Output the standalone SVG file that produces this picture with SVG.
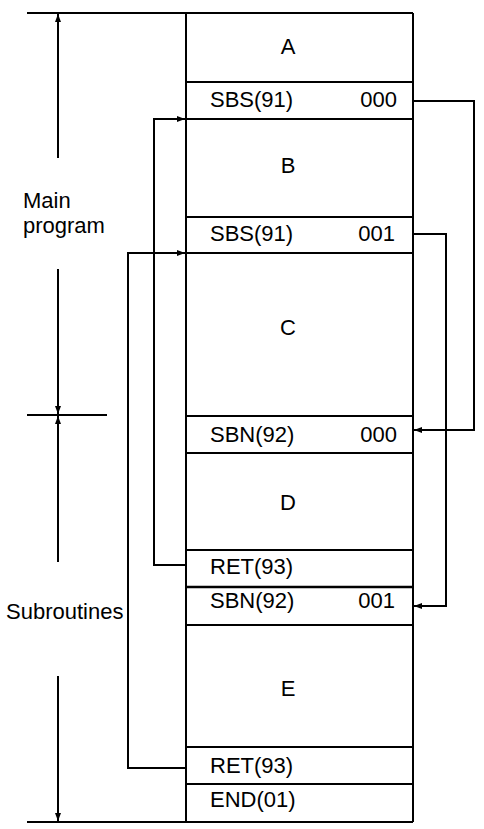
<svg xmlns="http://www.w3.org/2000/svg" width="484" height="829" viewBox="0 0 484 829">
<defs>
<marker id="ah" viewBox="0 0 8 6" refX="8" refY="3" markerWidth="8" markerHeight="6" markerUnits="userSpaceOnUse" orient="auto">
<path d="M0,0 L8,3 L0,6 Z" fill="#000"/>
</marker>
</defs>
<style>
.ln{stroke:#000;stroke-width:2;fill:none}
.t{font-family:"Liberation Sans",Arial,sans-serif;font-size:22px;fill:#000}
.c{text-anchor:middle}
.e{text-anchor:end}
</style>
<rect width="484" height="829" fill="#fff"/>
<g id="dimensions">
<line class="ln" x1="27" y1="13" x2="413" y2="13"/>
<line class="ln" x1="27" y1="822" x2="413" y2="822"/>
<line class="ln" x1="27" y1="415" x2="107" y2="415"/>
<line class="ln" x1="58" y1="158" x2="58" y2="14" marker-end="url(#ah)"/>
<line class="ln" x1="58" y1="269" x2="58" y2="414" marker-end="url(#ah)"/>
<line class="ln" x1="58" y1="562" x2="58" y2="416" marker-end="url(#ah)"/>
<line class="ln" x1="58" y1="676" x2="58" y2="821" marker-end="url(#ah)"/>
<text class="t" x="23" y="208">Main</text>
<text class="t" x="23" y="233">program</text>
<text class="t" x="6" y="619">Subroutines</text>
</g>
<g id="program">
<line class="ln" x1="186" y1="13" x2="186" y2="822"/>
<line class="ln" x1="413" y1="13" x2="413" y2="822"/>
</g>
<g id="nodeA"><text class="t c" x="288" y="54">A</text><line class="ln" x1="186" y1="82" x2="413" y2="82"/></g>
<g id="nodeSBS000"><text class="t" x="210" y="107">SBS(91)</text><text class="t e" x="397" y="107">000</text><line class="ln" x1="186" y1="119" x2="413" y2="119"/></g>
<g id="nodeB"><text class="t c" x="288" y="173">B</text><line class="ln" x1="186" y1="217" x2="413" y2="217"/></g>
<g id="nodeSBS001"><text class="t" x="210" y="241">SBS(91)</text><text class="t e" x="395" y="241">001</text><line class="ln" x1="186" y1="253" x2="413" y2="253"/></g>
<g id="nodeC"><text class="t c" x="288" y="335">C</text><line class="ln" x1="186" y1="416" x2="413" y2="416"/></g>
<g id="nodeSBN000"><text class="t" x="210" y="442">SBN(92)</text><text class="t e" x="397" y="442">000</text><line class="ln" x1="186" y1="453" x2="413" y2="453"/></g>
<g id="nodeD"><text class="t c" x="288" y="510">D</text><line class="ln" x1="186" y1="550" x2="413" y2="550"/></g>
<g id="nodeRET1"><text class="t" x="210" y="574">RET(93)</text><line class="ln" x1="186" y1="587" x2="413" y2="587" style="stroke-width:2.5"/></g>
<g id="nodeSBN001"><text class="t" x="210" y="608">SBN(92)</text><text class="t e" x="395" y="608">001</text><line class="ln" x1="186" y1="625" x2="413" y2="625"/></g>
<g id="nodeE"><text class="t c" x="288" y="696">E</text><line class="ln" x1="186" y1="747" x2="413" y2="747"/></g>
<g id="nodeRET2"><text class="t" x="210" y="773">RET(93)</text><line class="ln" x1="186" y1="784" x2="413" y2="784"/></g>
<g id="nodeEND"><text class="t" x="210" y="807">END(01)</text></g>
<g id="connectors">
<polyline class="ln" points="413,101 474,101 474,430 414,430" marker-end="url(#ah)"/>
<polyline class="ln" points="413,234 446,234 446,606 414,606" marker-end="url(#ah)"/>
<polyline class="ln" points="186,565 154,565 154,119 185,119" marker-end="url(#ah)"/>
<polyline class="ln" points="186,768 128,768 128,253 185,253" marker-end="url(#ah)"/>
</g>
</svg>
